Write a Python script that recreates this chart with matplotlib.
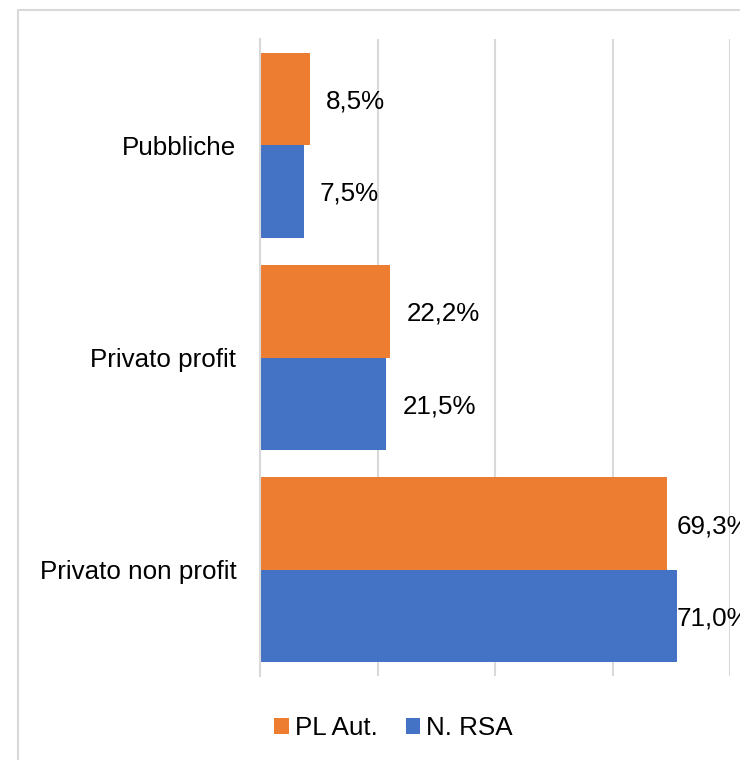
import matplotlib
matplotlib.use("Agg")
import matplotlib.pyplot as plt
from matplotlib.patches import Patch, Rectangle
import numpy as np

categories = ["Pubbliche", "Privato profit", "Privato non profit"]
series_names = ["PL Aut.", "N. RSA"]
pl_aut = [8.5, 22.2, 69.3]
n_rsa = [7.5, 21.5, 71.0]
x_ticks = [0, 20, 40, 60, 80]

ORANGE = "#ED7D31"
BLUE = "#4472C4"
GRID = "#D9D9D9"
FS = 18.7

plt.rcParams["font.family"] = ["Liberation Sans", "DejaVu Sans"]

W, H = 740, 760
fig = plt.figure(figsize=(W / 100, H / 100), dpi=100)

# outer chart frame
fig.patches.append(Rectangle((18 / W, -0.1), 1.2, 1.1 - 10.5 / H,
                             transform=fig.transFigure, fill=False,
                             edgecolor=GRID, linewidth=1.5, zorder=0))

ax = fig.add_axes([260 / W, 1 - 676 / H, (730 - 260) / W, (676 - 39) / H])

y = np.arange(len(categories))
h = 0.436
ax.barh(y - h / 2, pl_aut, height=h, color=ORANGE, zorder=3, label=series_names[0])
ax.barh(y + h / 2, n_rsa, height=h, color=BLUE, zorder=3, label=series_names[1])

ax.set_xlim(x_ticks[0], x_ticks[-1])
ax.set_ylim(len(categories) - 0.5, -0.5)
ax.set_xticks(x_ticks)
ax.set_xticklabels([])
ax.tick_params(axis="x", length=0)
ax.set_yticks(y)
ax.set_yticklabels(categories, fontsize=FS)
ax.tick_params(axis="y", length=0, pad=17)
ax.grid(axis="x", color=GRID, linewidth=1.5, zorder=0)
for s in ["top", "right", "bottom"]:
    ax.spines[s].set_visible(False)
ax.spines["left"].set_color(GRID)
ax.spines["left"].set_linewidth(1.5)
ax.spines["left"].set_zorder(4)

px_per_unit = (730 - 260) / (x_ticks[-1] - x_ticks[0])
offset = 16 / px_per_unit
cap = max(max(pl_aut), max(n_rsa))

def fmt(v):
    return f"{v:.1f}".replace(".", ",") + "%"

for i, (a, b) in enumerate(zip(pl_aut, n_rsa)):
    ax.text(min(a + offset, cap), i - h / 2, fmt(a), va="center_baseline", ha="left",
            fontsize=FS, color="black", zorder=5, clip_on=False)
    ax.text(min(b + offset, cap), i + h / 2, fmt(b), va="center_baseline", ha="left",
            fontsize=FS, color="black", zorder=5, clip_on=False)

handles = [Patch(facecolor=ORANGE, edgecolor="none"), Patch(facecolor=BLUE, edgecolor="none")]
fig.legend(handles, series_names, loc="center", bbox_to_anchor=(393.5 / W, 1 - 728 / H),
           ncol=2, frameon=False, fontsize=FS, handlelength=0.56, handleheight=0.56,
           handletextpad=0.24, columnspacing=1.08, borderpad=0, borderaxespad=0)

fig.savefig("out.png", dpi=100)
